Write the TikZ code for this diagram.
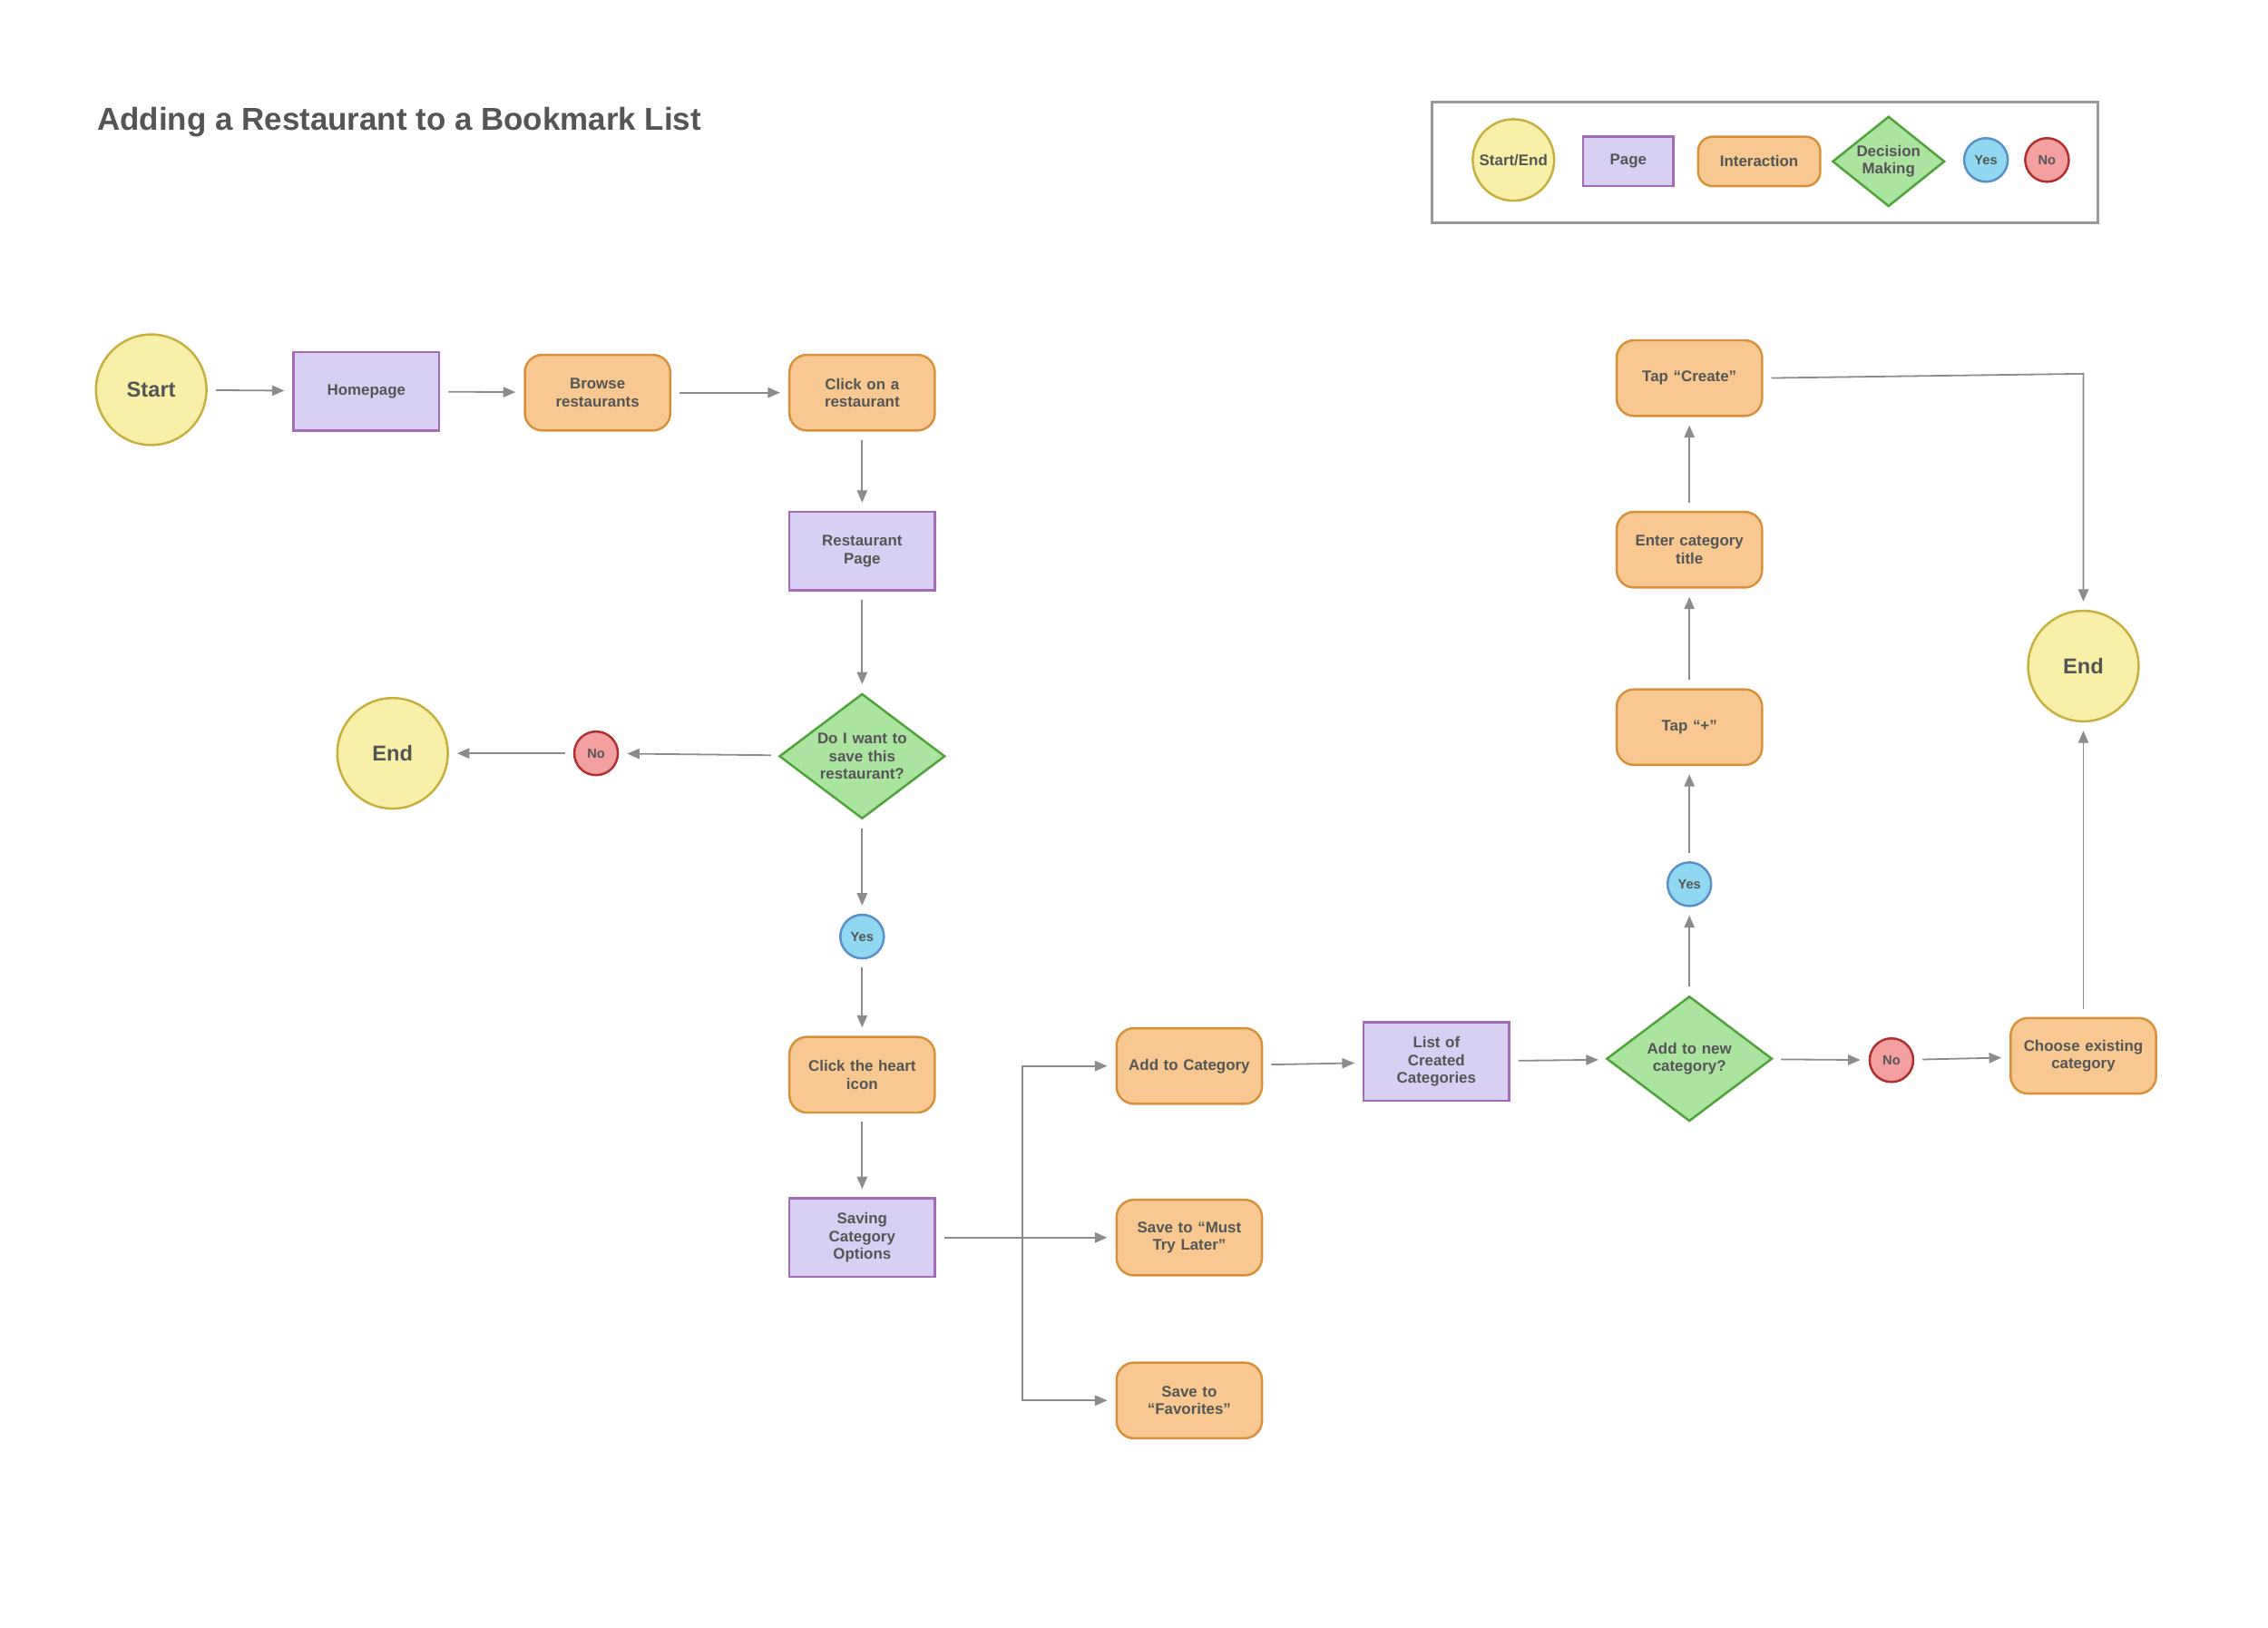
\documentclass[tikz,border=0pt]{standalone}
\usepackage{fontspec}
\setmainfont{Liberation Sans}
\usetikzlibrary{shapes.geometric,arrows.meta}
\definecolor{txt}{HTML}{555555}
\definecolor{lnc}{HTML}{8C8C8C}
\definecolor{seD}{HTML}{C8B040}\definecolor{seF}{HTML}{F8F0A8}
\definecolor{pgD}{HTML}{A66BB5}\definecolor{pgF}{HTML}{D8CFF5}
\definecolor{iaD}{HTML}{D8913A}\definecolor{iaF}{HTML}{F7C892}
\definecolor{dmD}{HTML}{4FA33A}\definecolor{dmF}{HTML}{ABE3A0}
\definecolor{yD}{HTML}{5A90C8}\definecolor{yF}{HTML}{8FD8F0}
\definecolor{nD}{HTML}{B03030}\definecolor{nF}{HTML}{F4A0A0}
\definecolor{legD}{HTML}{999999}
\begin{document}
\begin{tikzpicture}[x=0.025cm,y=-0.025cm,
 base/.style={font=\bfseries\fontsize{7.5}{8.6}\selectfont,text=txt,align=center,line width=1.1pt,inner sep=1pt},
 se/.style={base,circle,draw=seD,fill=seF,minimum size=1.9cm,font=\bfseries\fontsize{10.5}{12}\selectfont},
 pg/.style={base,rectangle,draw=pgD,fill=pgF,minimum width=2.5cm,minimum height=1.35cm,text width=2.2cm},
 ia/.style={base,rectangle,rounded corners=0.3cm,draw=iaD,fill=iaF,minimum width=2.5cm,minimum height=1.3cm,text width=2.3cm},
 dm/.style={base,diamond,aspect=1.33,draw=dmD,fill=dmF,minimum width=2.85cm,minimum height=2.15cm,inner sep=0pt,text width=1.6cm},
 yes/.style={base,circle,draw=yD,fill=yF,minimum size=0.75cm,font=\bfseries\fontsize{6.5}{7}\selectfont},
 no/.style={base,circle,draw=nD,fill=nF,minimum size=0.75cm,font=\bfseries\fontsize{6.5}{7}\selectfont},
 ar/.style={draw=lnc,line width=0.8pt,-{Triangle[length=6pt,width=5pt]},shorten >=4pt,shorten <=4pt},
 ln/.style={draw=lnc,line width=0.8pt}]
\useasboundingbox (0,0) rectangle (1560,1119);
\node[anchor=west,font=\bfseries\fontsize{15.5}{18}\selectfont,text=txt] (title) at (62,84) {Adding a Restaurant to a Bookmark List};
% legend
\node[draw=legD,line width=1.2pt,minimum width=11.45cm,minimum height=2.075cm] (leg) at (1214,111.5) {};
\node[se,minimum size=1.4cm,font=\bfseries\fontsize{7.5}{8}\selectfont,inner sep=0pt] (l1) at (1041,110) {Start/End};
\node[pg,minimum width=1.55cm,minimum height=0.85cm,text width=1.3cm] (l2) at (1120,111) {Page};
\node[ia,minimum width=2.1cm,minimum height=0.85cm,text width=2cm,rounded corners=0.25cm] (l3) at (1210,111) {Interaction};
\node[dm,minimum width=1.9cm,minimum height=1.55cm,text width=1.2cm] (l4) at (1299,111) {Decision\\Making};
\node[yes] (l5) at (1366,110) {Yes};
\node[no] (l6) at (1408,110) {No};
% main
\node[se] (start) at (104,268) {Start};
\node[pg] (home) at (252,269) {Homepage};
\node[ia] (browse) at (411,270) {Browse\\restaurants};
\node[ia] (click) at (593,270) {Click on a\\restaurant};
\node[pg] (rpage) at (593,379) {Restaurant\\Page};
\node[dm] (save) at (593,520) {Do I want to\\save this\\restaurant?};
\node[no] (no1) at (410,518) {No};
\node[se] (end1) at (270,518) {End};
\node[yes] (yes1) at (593,644) {Yes};
\node[ia] (heart) at (593,739) {Click the heart\\icon};
\node[pg] (saving) at (593,851) {Saving\\Category\\Options};
\node[ia] (addcat) at (818,733) {Add to Category};
\node[ia] (must) at (818,851) {Save to “Must\\Try Later”};
\node[ia] (fav) at (818,963) {Save to\\“Favorites”};
\node[pg] (list) at (988,730) {List of\\Created\\Categories};
\node[dm] (newcat) at (1162,728) {Add to new\\category?};
\node[no] (no2) at (1301,729) {No};
\node[ia] (choose) at (1433,726) {Choose existing\\category};
\node[se] (end2) at (1433,458) {End};
\node[yes] (yes2) at (1162,608) {Yes};
\node[ia] (plus) at (1162,500) {Tap “+”};
\node[ia] (title2) at (1162,378) {Enter category\\title};
\node[ia] (create) at (1162,260) {Tap “Create”};
\coordinate (br) at (703,851);
\coordinate (cr) at (1433,257);
% arrows
\draw[ar] (start) -- (home);
\draw[ar] (home) -- (browse);
\draw[ar] (browse) -- (click);
\draw[ar] (click) -- (rpage);
\draw[ar] (rpage) -- (save);
\draw[ar] (save) -- (no1);
\draw[ar] (no1) -- (end1);
\draw[ar] (save) -- (yes1);
\draw[ar] (yes1) -- (heart);
\draw[ar] (heart) -- (saving);
\draw[ln,shorten <=4pt] (saving.east) -- (br);
\draw[ar,shorten <=0pt] (br) |- (addcat.west);
\draw[ar,shorten <=0pt] (br) -- (must.west);
\draw[ar,shorten <=0pt] (br) |- (fav.west);
\draw[ar] (addcat) -- (list);
\draw[ar] (list) -- (newcat);
\draw[ar] (newcat) -- (no2);
\draw[ar] (no2) -- (choose);
\draw[ar] (choose) -- (end2);
\draw[ar] (newcat) -- (yes2);
\draw[ar] (yes2) -- (plus);
\draw[ar] (plus) -- (title2);
\draw[ar] (title2) -- (create);
\draw[ar] (create.east) -- (cr) -- (end2);
\end{tikzpicture}
\end{document}
